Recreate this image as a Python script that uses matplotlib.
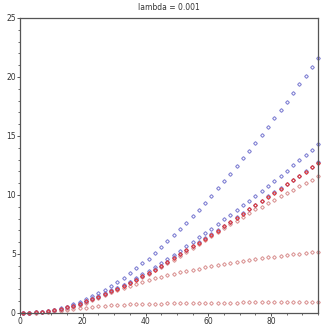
import numpy as np
import matplotlib
matplotlib.use('Agg')
import matplotlib.pyplot as plt
from matplotlib.ticker import MultipleLocator

# значения t = 1, 3, ..., 95
t = np.arange(1, 96, 2)

blue_1 = [0.0, 0.01, 0.04, 0.09, 0.16, 0.26, 0.38, 0.53, 0.72, 0.93, 1.17, 1.42,
          1.66, 1.97, 2.3, 2.65, 3.0, 3.4, 3.8, 4.2, 4.6, 5.1, 5.6, 6.1,
          6.6, 7.1, 7.6, 8.2, 8.75, 9.3, 9.9, 10.55, 11.2, 11.8, 12.45, 13.1,
          13.75, 14.4, 15.1, 15.8, 16.5, 17.2, 17.9, 18.65, 19.4, 20.1, 20.85, 21.6]

blue_2 = [0.0, 0.01, 0.04, 0.09, 0.16, 0.25, 0.36, 0.5, 0.66, 0.84, 1.03, 1.24,
          1.46, 1.7, 1.94, 2.15, 2.4, 2.66, 2.94, 3.27, 3.55, 3.88, 4.2, 4.55,
          4.93, 5.28, 5.65, 6.0, 6.4, 6.75, 7.12, 7.5, 7.95, 8.32, 8.72, 9.12,
          9.5, 9.9, 10.35, 10.8, 11.2, 11.6, 12.05, 12.5, 12.95, 13.4, 13.85, 14.3]

blue_3 = [0.0, 0.01, 0.04, 0.09, 0.16, 0.25, 0.35, 0.48, 0.63, 0.8, 0.98, 1.18,
          1.39, 1.61, 1.84, 2.08, 2.33, 2.58, 2.84, 3.12, 3.4, 3.7, 4.0, 4.34,
          4.7, 5.03, 5.34, 5.68, 6.0, 6.33, 6.66, 7.0, 7.38, 7.75, 8.12, 8.47,
          8.82, 9.18, 9.52, 9.88, 10.22, 10.58, 10.95, 11.3, 11.62, 12.0, 12.4, 12.78]

red_1 = [0.0, 0.01, 0.04, 0.09, 0.16, 0.25, 0.35, 0.47, 0.62, 0.79, 0.97, 1.17,
         1.38, 1.6, 1.83, 2.07, 2.32, 2.57, 2.83, 3.1, 3.38, 3.68, 3.98, 4.31,
         4.67, 5.0, 5.32, 5.66, 5.97, 6.3, 6.63, 6.97, 7.34, 7.7, 8.06, 8.42,
         8.77, 9.15, 9.48, 9.84, 10.18, 10.52, 10.9, 11.24, 11.58, 11.94, 12.34, 12.7]

pink_1 = [0.0, 0.01, 0.04, 0.09, 0.16, 0.25, 0.35, 0.47, 0.62, 0.78, 0.96, 1.15,
          1.36, 1.58, 1.8, 2.03, 2.27, 2.52, 2.77, 3.04, 3.3, 3.6, 3.9, 4.2,
          4.52, 4.85, 5.17, 5.5, 5.83, 6.17, 6.5, 6.85, 7.2, 7.52, 7.83, 8.13,
          8.45, 8.78, 9.02, 9.3, 9.58, 9.87, 10.18, 10.46, 10.77, 11.03, 11.27, 11.58]

pink_2 = [0.0, 0.01, 0.03, 0.06, 0.1, 0.16, 0.24, 0.34, 0.48, 0.66, 0.86, 1.08,
          1.3, 1.55, 1.77, 1.96, 2.13, 2.29, 2.46, 2.63, 2.8, 2.94, 3.05, 3.19,
          3.3, 3.44, 3.55, 3.64, 3.75, 3.86, 3.97, 4.05, 4.14, 4.25, 4.31, 4.39,
          4.47, 4.56, 4.64, 4.7, 4.75, 4.84, 4.92, 4.98, 5.03, 5.09, 5.15, 5.2]

pink_3 = [0.0, 0.01, 0.03, 0.06, 0.1, 0.15, 0.2, 0.26, 0.32, 0.4, 0.46, 0.52,
          0.57, 0.61, 0.64, 0.67, 0.7, 0.72, 0.74, 0.76, 0.78, 0.79, 0.8, 0.81,
          0.82, 0.83, 0.84, 0.85, 0.85, 0.86, 0.86, 0.87, 0.87, 0.88, 0.88, 0.89,
          0.89, 0.9, 0.9, 0.9, 0.91, 0.91, 0.91, 0.92, 0.92, 0.92, 0.93, 0.93]

BLUE = '#8585d5'
RED = '#e03a3a'
PINK = '#dc9a9a'

fig = plt.figure(figsize=(3.27, 3.27), dpi=100)
ax = fig.add_axes([0.061, 0.043, 0.912, 0.902])

mk = dict(marker='D', markersize=1.9, linestyle='none', fillstyle='none',
          markeredgewidth=0.8, clip_on=False)
ax.plot(t, pink_3, color=PINK, **mk)
ax.plot(t, pink_2, color=PINK, **mk)
ax.plot(t, pink_1, color=PINK, **mk)
ax.plot(t, blue_1, color=BLUE, **mk)
ax.plot(t, blue_2, color=BLUE, **mk)
ax.plot(t, blue_3, color=BLUE, **mk)
ax.plot(t, red_1, color=RED, **mk)

ax.set_xlim(0, 95)
ax.set_ylim(0, 25)
ax.xaxis.set_major_locator(MultipleLocator(20))
ax.xaxis.set_minor_locator(MultipleLocator(5))
ax.yaxis.set_major_locator(MultipleLocator(5))
ax.yaxis.set_minor_locator(MultipleLocator(1))

for s in ax.spines.values():
    s.set_color('#555555')
    s.set_linewidth(0.9)
ax.tick_params(which='major', length=2.5, width=0.7, color='#555555',
               labelsize=5.5, labelcolor='#333333', pad=0.5)
ax.tick_params(which='minor', length=1.3, width=0.6, color='#555555')

ax.set_title('lambda = 0.001', fontsize=5.5, color='#333333', pad=6)

plt.savefig('out.png', dpi=100)
